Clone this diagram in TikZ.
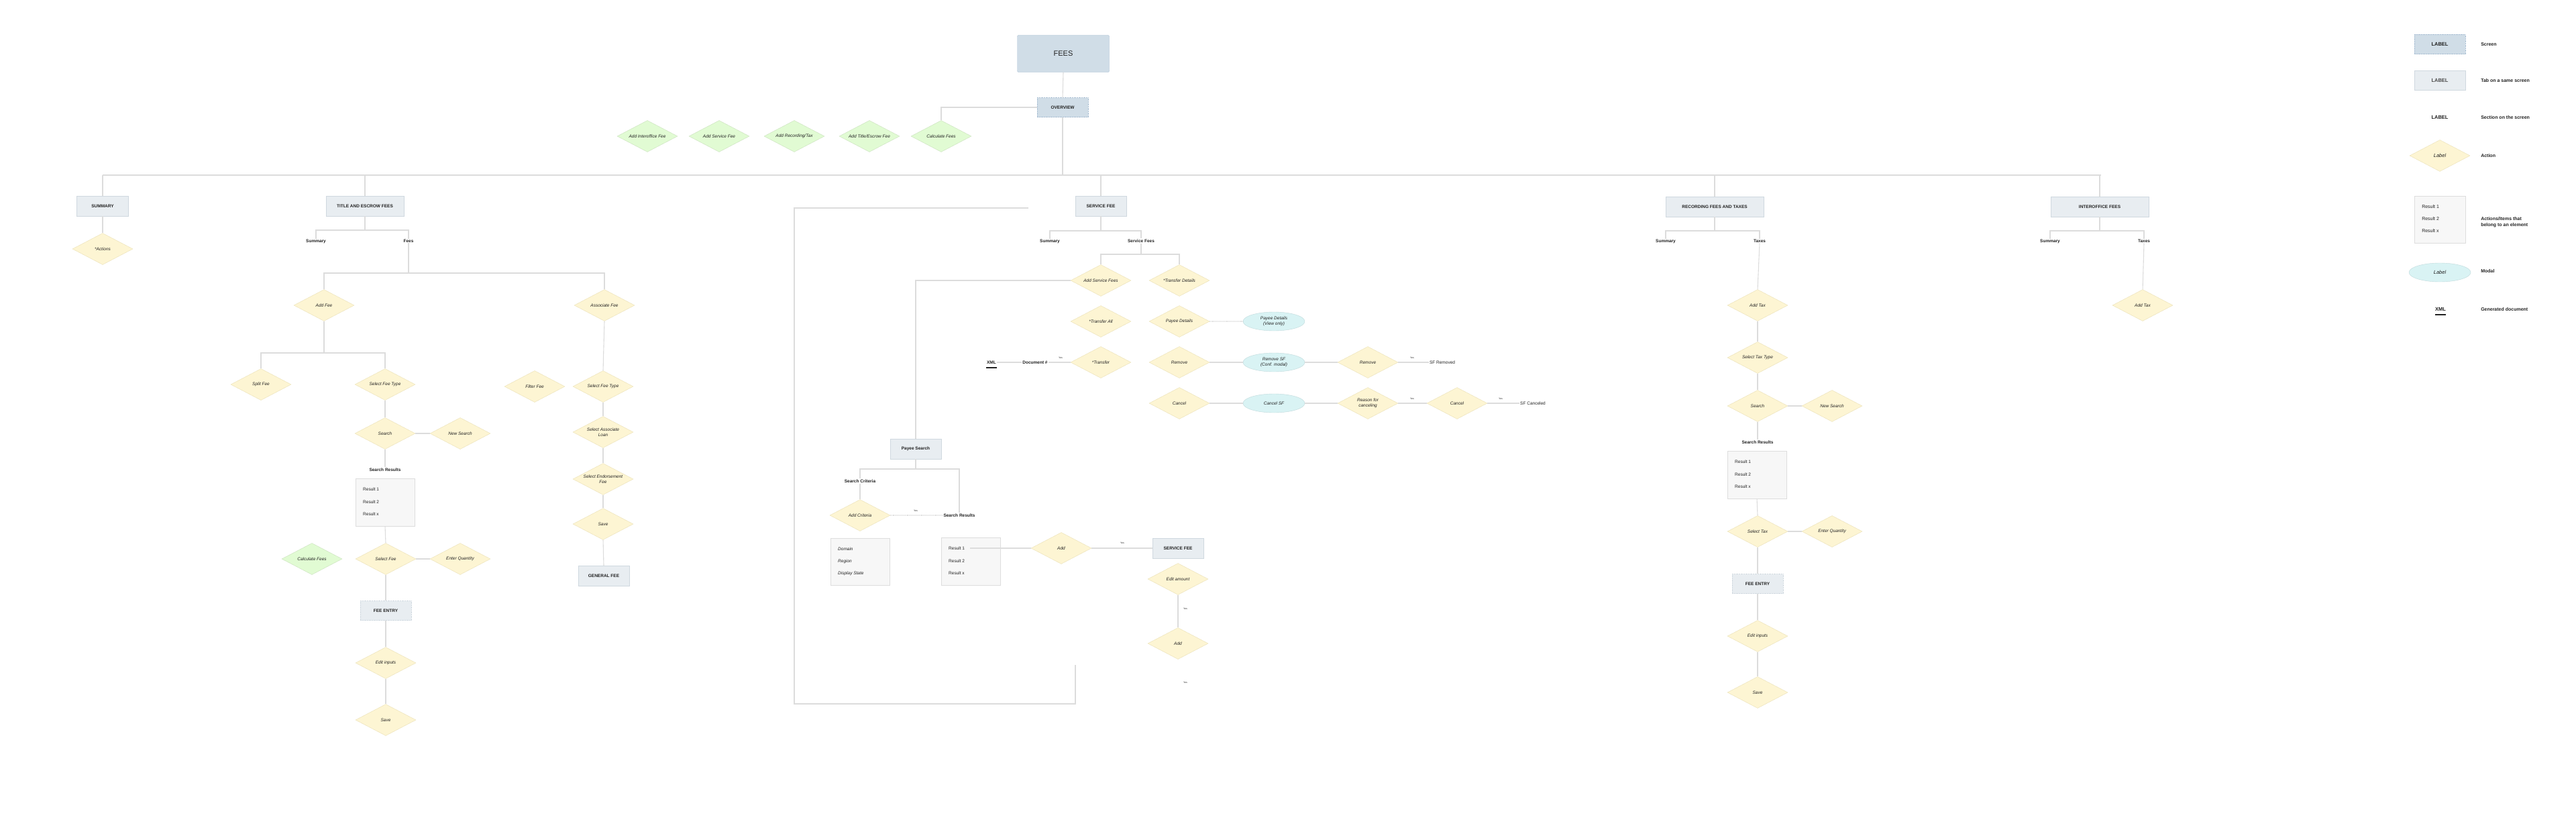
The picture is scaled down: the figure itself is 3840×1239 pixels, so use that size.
\documentclass[tikz,border=0pt]{standalone}
\usepackage{fontspec}
\setmainfont{Liberation Sans}
\usetikzlibrary{shapes.geometric}
\definecolor{scrF}{HTML}{D0DDE7}\definecolor{scrD}{HTML}{A9BFD3}
\definecolor{tabF}{HTML}{E8EDF1}\definecolor{tabD}{HTML}{CFD8DF}
\definecolor{actF}{HTML}{FDF5D3}\definecolor{actD}{HTML}{E9DFB5}
\definecolor{grnF}{HTML}{E1FBD3}\definecolor{grnD}{HTML}{C9DFBC}
\definecolor{modF}{HTML}{D9F3F4}\definecolor{modD}{HTML}{BFD8DA}
\definecolor{resF}{HTML}{F7F7F7}\definecolor{resD}{HTML}{DDDDDD}
\definecolor{lnC}{HTML}{DCDCDC}\definecolor{txC}{HTML}{222222}
\tikzset{
 scr/.style={rectangle,fill=scrF,draw=scrD,densely dotted,minimum width=76pt,minimum height=29pt,inner sep=1pt,font=\fontsize{6.5}{7}\selectfont\bfseries,text=txC},
 tabbox/.style={rectangle,fill=tabF,draw=tabD,minimum width=76pt,minimum height=30pt,inner sep=1pt,font=\fontsize{6.5}{7}\selectfont\bfseries,text=txC},
 act/.style={diamond,aspect=1.9,fill=actF,draw=actD,minimum width=90pt,minimum height=47pt,inner sep=0pt,align=center,font=\fontsize{6.5}{7.5}\selectfont\itshape,text=txC},
 grn/.style={act,fill=grnF,draw=grnD},
 modal/.style={ellipse,fill=modF,draw=modD,minimum width=92pt,minimum height=28pt,inner sep=0pt,align=center,font=\fontsize{6.5}{7.5}\selectfont\itshape,text=txC},
 sec/.style={font=\fontsize{6.5}{7.5}\selectfont\bfseries,text=txC,inner sep=1pt},
 yes/.style={font=\fontsize{3.5}{4}\selectfont,text=txC,inner sep=0pt},
 resbox/.style={rectangle,fill=resF,draw=resD,inner sep=0pt},
 item/.style={anchor=west,font=\fontsize{6.5}{7}\selectfont,text=txC,inner sep=0pt},
 ln/.style={draw=lnC,line width=1.1pt},
 leg/.style={anchor=west,font=\fontsize{7}{8.5}\selectfont\bfseries,text=txC,align=left,inner sep=0pt},
}
\begin{document}
\begin{tikzpicture}[x=1pt,y=-1pt]
\useasboundingbox (0,0) rectangle (3840,1239);
% ---------- top ----------
\node[rectangle,fill=scrF,draw=scrD,rounded corners=2pt,minimum width=137pt,minimum height=55pt,font=\fontsize{11}{12}\selectfont,text=txC] (fees) at (1585,80) {FEES};
\node[scr] (overview) at (1584,160) {OVERVIEW};
\node[grn] (g1) at (965,203) {Add Interoffice Fee};
\node[grn] (g2) at (1072,203) {Add Service Fee};
\node[grn] (g3) at (1184,203) {Add Recording/Tax};
\node[grn] (g4) at (1296,203) {Add Title/Escrow Fee};
\node[grn] (g5) at (1403,203) {Calculate Fees};
\draw[ln] (fees.south) -- (overview.north);
\draw[ln] (overview.west) -| (g5.north);
\coordinate (busL) at (153,261); \coordinate (busR) at (3132,261);
\draw[ln] (busL) -- (busR);
\draw[ln] (overview.south) -- (overview.south |- busL);
% tabs
\node[tabbox,minimum width=77pt] (summary) at (153,307) {SUMMARY};
\node[tabbox,minimum width=116pt] (title) at (544,307) {TITLE AND ESCROW FEES};
\node[tabbox] (service) at (1641,307) {SERVICE FEE};
\node[tabbox,minimum width=146pt] (recording) at (2556,308) {RECORDING FEES AND TAXES};
\node[tabbox,minimum width=146pt] (interoffice) at (3130,308) {INTEROFFICE FEES};
\foreach \n in {summary,title,service,recording,interoffice}{\draw[ln] (\n.north) -- (\n.north |- busL);}
% summary
\node[act] (actions) at (153,371) {*Actions};
\draw[ln] (summary.south) -- (actions.north);
% ---------- title and escrow ----------
\node[sec] (tsum) at (471,360) {Summary};
\node[sec] (tfees) at (609,359) {Fees};
\coordinate (tj) at (544,343);
\draw[ln] (title.south) -- (tj);
\draw[ln] (tsum.north) |- (tj) -| (tfees.north);
\node[act] (addfee) at (483,455) {Add Fee};
\node[act] (assoc) at (901,455) {Associate Fee};
\coordinate (tb) at (609,407);
\draw[ln] (tfees.south) -- (tb);
\draw[ln] (addfee.north) |- (tb) -| (assoc.north);
\node[act] (split) at (389,573) {Split Fee};
\node[act] (sft1) at (574,573) {Select Fee Type};
\coordinate (ab) at (483,526);
\draw[ln] (addfee.south) -- (ab);
\draw[ln] (split.north) |- (ab) -| (sft1.north);
\node[act] (filter) at (797,576) {Filter Fee};
\node[act] (sft2) at (899,576) {Select Fee Type};
\draw[ln] (assoc.south) -- (sft2.north);
\node[act] (search1) at (574,646) {Search};
\node[act] (news1) at (686,646) {New Search};
\draw[ln] (sft1.south) -- (search1.north);
\draw[ln] (search1.east) -- (news1.west);
\node[sec] (srl1) at (574,700) {Search Results};
\draw[ln] (search1.south) -- (srl1.north);
\node[resbox,minimum width=88pt,minimum height=71pt] (res1) at (574,748.5) {};
\node[item] at (541,729) {Result 1};
\node[item] at (541,748) {Result 2};
\node[item] at (541,766) {Result x};
\node[act] (selfee) at (575,833) {Select Fee};
\node[grn] (calc2) at (465,833) {Calculate Fees};
\node[act] (entq1) at (686,833) {Enter Quantity};
\draw[ln] (res1.south) -- (selfee.north);
\draw[ln] (selfee.east) -- (entq1.west);
\node[scr,fill=tabF,draw=tabD] (fe1) at (575,910) {FEE ENTRY};
\node[act] (edit1) at (575,988) {Edit inputs};
\node[act] (save1) at (575,1073) {Save};
\draw[ln] (selfee.south) -- (fe1.north);
\draw[ln] (fe1.south) -- (edit1.north);
\draw[ln] (edit1.south) -- (save1.north);
\node[act] (loan) at (899,644) {Select Associate\\Loan};
\node[act] (endorse) at (899,714) {Select Endorsement\\Fee};
\node[act] (save2) at (899,781) {Save};
\node[tabbox] (general) at (900,858) {GENERAL FEE};
\draw[ln] (sft2.south) -- (loan.north);
\draw[ln] (loan.south) -- (endorse.north);
\draw[ln] (endorse.south) -- (save2.north);
\draw[ln] (save2.south) -- (general.north);
% ---------- service fee ----------
\node[sec] (ssum) at (1565,360) {Summary};
\node[sec] (sfees) at (1701,359) {Service Fees};
\coordinate (sj) at (1641,344);
\draw[ln] (service.south) -- (sj);
\draw[ln] (ssum.north) |- (sj) -| (sfees.north);
\node[act] (addsf) at (1641,418) {Add Service Fees};
\node[act] (tdet) at (1758,418) {*Transfer Details};
\coordinate (sb) at (1701,379);
\draw[ln] (sfees.south) -- (sb);
\draw[ln] (addsf.north) |- (sb) -| (tdet.north);
\node[act] (tall) at (1641,479) {*Transfer All};
\node[act] (pdet) at (1758,479) {Payee Details};
\node[modal] (pdv) at (1899,479) {Payee Details\\(View only)};
\draw[ln,densely dotted] (pdet.east) -- (pdv.west);
\node[act] (transfer) at (1641,540) {*Transfer};
\node[sec] (docnum) at (1543,540) {Document \#};
\node[sec] (xml) at (1478,540) {XML};
\draw[line width=1.2pt,txC] (1470,548) -- (1486,548);
\draw[ln] (xml.east) -- (docnum.west);
\draw[ln] (docnum.east) -- (transfer.west);
\node[yes] at (1581,533) {Yes};
\node[act] (remove) at (1758,540) {Remove};
\node[modal] (rmsf) at (1899,540) {Remove SF\\(Conf. modal)};
\node[act] (remove2) at (2039,540) {Remove};
\node[sec,font=\fontsize{6.5}{7.5}\selectfont] (sfrem) at (2150,540) {SF Removed};
\draw[ln] (remove.east) -- (rmsf.west);
\draw[ln] (rmsf.east) -- (remove2.west);
\draw[ln] (remove2.east) -- (sfrem.west);
\node[yes] at (2105,533) {Yes};
\node[act] (cancel) at (1758,601) {Cancel};
\node[modal] (cancsf) at (1899,601) {Cancel SF};
\node[act] (reason) at (2039,601) {Reason for\\canceling};
\node[act] (cancel2) at (2172,601) {Cancel};
\node[sec,font=\fontsize{6.5}{7.5}\selectfont] (sfcan) at (2285,601) {SF Canceled};
\draw[ln] (cancel.east) -- (cancsf.west);
\draw[ln] (cancsf.east) -- (reason.west);
\draw[ln] (reason.east) -- (cancel2.west);
\draw[ln] (cancel2.east) -- (sfcan.west);
\node[yes] at (2105,594) {Yes};
\node[yes] at (2237,594) {Yes};
% payee search
\node[tabbox] (payee) at (1365,669) {Payee Search};
\draw[ln] (addsf.west) -| (payee.north);
\draw[ln] (1533,310) -- (1184,310) -- (1184,1049) -- (1603,1049) -- (1603,991);
\node[sec] (scrit) at (1282,717) {Search Criteria};
\node[sec] (srl2) at (1430,768) {Search Results};
\coordinate (pj) at (1365,699);
\draw[ln] (payee.south) -- (pj);
\draw[ln] (scrit.north) |- (pj) -| (srl2.north);
\node[act] (addcrit) at (1282,768) {Add Criteria};
\draw[ln] (scrit.south) -- (addcrit.north);
\draw[ln,densely dotted] (addcrit.east) -- (srl2.west);
\node[yes] at (1365,761) {Yes};
\node[resbox,minimum width=88pt,minimum height=70pt] (crit) at (1282,837) {};
\node[item,font=\fontsize{6.5}{7}\selectfont\itshape] at (1249,818) {Domain};
\node[item,font=\fontsize{6.5}{7}\selectfont\itshape] at (1249,837) {Region};
\node[item,font=\fontsize{6.5}{7}\selectfont\itshape] at (1249,855) {Display State};
\node[resbox,minimum width=88pt,minimum height=71pt] (res2) at (1447,836.5) {};
\node[item] (r21) at (1414,817) {Result 1};
\node[item] at (1414,836) {Result 2};
\node[item] at (1414,854) {Result x};
\node[act] (add1) at (1582,817) {Add};
\node[tabbox] (sf2) at (1756,817) {SERVICE FEE};
\draw[ln] ([xshift=8pt]r21.east) -- (add1.west);
\draw[ln] (add1.east) -- (sf2.west);
\node[yes] at (1673,809) {Yes};
\node[act] (editamt) at (1756,863) {Edit amount};
\node[act] (add2) at (1756,959) {Add};
\draw[ln] (editamt.south) -- (add2.north);
\node[yes] at (1767,907) {Yes};
\node[yes] at (1767,1017) {Yes};
% ---------- recording ----------
\node[sec] (rsum) at (2483,360) {Summary};
\node[sec] (rtax) at (2623,359) {Taxes};
\coordinate (rj) at (2556,344);
\draw[ln] (recording.south) -- (rj);
\draw[ln] (rsum.north) |- (rj) -| (rtax.north);
\node[act] (addtax) at (2620,455) {Add Tax};
\node[act] (stt) at (2620,533) {Select Tax Type};
\node[act] (search2) at (2620,605) {Search};
\node[act] (news2) at (2731,605) {New Search};
\node[sec] (srl3) at (2620,659) {Search Results};
\node[resbox,minimum width=88pt,minimum height=71pt] (res3) at (2619,707.5) {};
\node[item] at (2586,688) {Result 1};
\node[item] at (2586,707) {Result 2};
\node[item] at (2586,725) {Result x};
\node[act] (seltax) at (2620,792) {Select Tax};
\node[act] (entq2) at (2731,792) {Enter Quantity};
\node[scr,fill=tabF,draw=tabD] (fe2) at (2620,870) {FEE ENTRY};
\node[act] (edit2) at (2620,948) {Edit inputs};
\node[act] (save3) at (2620,1032) {Save};
\draw[ln] (rtax.south) -- (addtax.north);
\draw[ln] (addtax.south) -- (stt.north);
\draw[ln] (stt.south) -- (search2.north);
\draw[ln] (search2.east) -- (news2.west);
\draw[ln] (search2.south) -- (srl3.north);
\draw[ln] (res3.south) -- (seltax.north);
\draw[ln] (seltax.east) -- (entq2.west);
\draw[ln] (seltax.south) -- (fe2.north);
\draw[ln] (fe2.south) -- (edit2.north);
\draw[ln] (edit2.south) -- (save3.north);
% ---------- interoffice ----------
\node[sec] (isum) at (3056,360) {Summary};
\node[sec] (itax) at (3196,359) {Taxes};
\coordinate (ij) at (3130,344);
\draw[ln] (interoffice.south) -- (ij);
\draw[ln] (isum.north) |- (ij) -| (itax.north);
\node[act] (addtax2) at (3194,455) {Add Tax};
\draw[ln] (itax.south) -- (addtax2.north);
% ---------- legend ----------
\node[scr,font=\fontsize{7.5}{8}\selectfont\bfseries] (l1) at (3637,66) {LABEL};
\node[leg] at (3698,66) {Screen};
\node[tabbox,minimum height=29pt,font=\fontsize{7.5}{8}\selectfont\bfseries,text=black!70] (l2) at (3637,120) {LABEL};
\node[leg] at (3698,120) {Tab on a same screen};
\node[sec,font=\fontsize{7.5}{8}\selectfont\bfseries] (l3) at (3637,175) {LABEL};
\node[leg] at (3698,175) {Section on the screen};
\node[act,font=\fontsize{7.5}{8}\selectfont\itshape] (l4) at (3637,232) {Label};
\node[leg] at (3698,232) {Action};
\node[resbox,minimum width=76pt,minimum height=70pt] (l5) at (3637,327) {};
\node[item,font=\fontsize{7}{8}\selectfont] at (3610,308) {Result 1};
\node[item,font=\fontsize{7}{8}\selectfont] at (3610,326) {Result 2};
\node[item,font=\fontsize{7}{8}\selectfont] at (3610,344) {Result x};
\node[leg] at (3698,331) {Actions/Items that\\belong to an element};
\node[modal,font=\fontsize{7.5}{8}\selectfont\itshape] (l6) at (3637,406) {Label};
\node[leg] at (3698,404) {Modal};
\node[sec,font=\fontsize{7.5}{8}\selectfont\bfseries] (l7) at (3638,461) {XML};
\draw[line width=1.2pt,txC] (3630,469) -- (3646,469);
\node[leg] at (3698,461) {Generated document};
\end{tikzpicture}
\end{document}
